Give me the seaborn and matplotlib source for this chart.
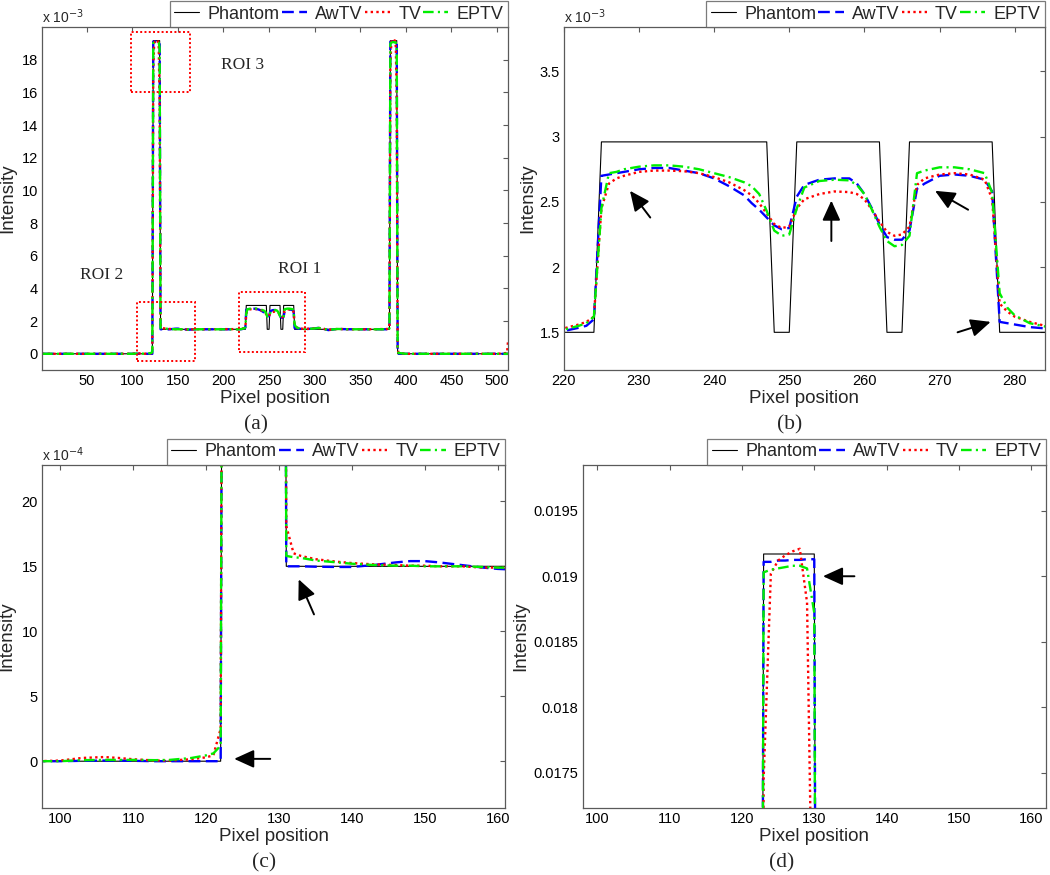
import numpy as np
import matplotlib
matplotlib.use("Agg")
import matplotlib.pyplot as plt
import seaborn as sns
from matplotlib.patches import Rectangle
from matplotlib.ticker import FuncFormatter

# ======================
# data (intensity in units of 1e-3)
# ======================
phantom_x = [1, 122, 123, 130, 131, 224, 225, 247, 248, 250, 251, 262, 263, 265,
             266, 277, 278, 382, 383, 390, 391, 512]
phantom_y = [0, 0, 19.17, 19.17, 1.5, 1.5, 2.96, 2.96, 1.5, 1.5, 2.96, 2.96, 1.5, 1.5,
             2.96, 2.96, 1.5, 1.5, 19.17, 19.17, 0, 0]

recon_x = [1, 97, 100, 103, 106, 108, 110, 113, 115, 118, 120, 121, 122,
           123, 124, 125, 126, 127, 128, 129, 130,
           131, 132, 133, 135, 138, 140, 143, 146, 148, 150, 152, 155, 158, 160, 162,
           170, 200, 218, 220, 222, 223, 224,
           225, 226, 227, 228, 230, 232, 234, 236, 238, 240, 242, 244, 245, 246, 247,
           248, 249, 250,
           251, 252, 254, 256, 258, 259, 260, 261, 262,
           263, 264, 265,
           266, 267, 268, 270, 272, 274, 276, 277,
           278, 279, 280, 282, 284,
           290, 300, 305, 315, 325, 340, 360, 380, 382,
           383, 384, 385, 386, 387, 388, 389, 390,
           391, 392, 400, 450, 500, 511, 512]
awtv_y = [0, 0, 0, 0.003, 0.005, 0.005, 0.003, 0, 0, 0, 0, 0, 0,
          19.11, 19.11, 19.12, 19.12, 19.125, 19.125, 19.13, 19.13,
          1.5, 1.5, 1.5, 1.497, 1.495, 1.495, 1.51, 1.53, 1.54, 1.54, 1.53, 1.51, 1.49, 1.48, 1.475,
          1.5, 1.5, 1.5, 1.51, 1.535, 1.55, 1.6,
          2.7, 2.71, 2.72, 2.73, 2.75, 2.76, 2.76, 2.74, 2.72, 2.68, 2.62, 2.55, 2.49, 2.44, 2.38,
          2.32, 2.29, 2.3,
          2.54, 2.63, 2.67, 2.68, 2.68, 2.64, 2.56, 2.45, 2.33,
          2.23, 2.21, 2.21,
          2.28, 2.6, 2.64, 2.7, 2.71, 2.7, 2.67, 2.58,
          1.58, 1.57, 1.56, 1.54, 1.53,
          1.51, 1.55, 1.6, 1.45, 1.52, 1.5, 1.5, 1.5, 1.52,
          19.1, 19.12, 19.12, 19.13, 19.13, 19.13, 19.13, 19.13,
          0, 0, 0, 0, 0, 0, 0]
tv_y = [0, 0, 0.005, 0.025, 0.032, 0.025, 0.015, 0.005, 0.005, 0.015, 0.03, 0.045, 0.25,
        17.45, 19.02, 19.12, 19.16, 19.19, 19.21, 18.8, 15.3,
        1.81, 1.6, 1.58, 1.555, 1.535, 1.525, 1.515, 1.51, 1.505, 1.505, 1.5, 1.5, 1.49, 1.49, 1.49,
        1.5, 1.51, 1.51, 1.53, 1.56, 1.58, 1.62,
        2.45, 2.64, 2.68, 2.7, 2.73, 2.74, 2.74, 2.735, 2.72, 2.69, 2.65, 2.59, 2.55, 2.49, 2.41,
        2.33, 2.3, 2.31,
        2.45, 2.52, 2.56, 2.58, 2.575, 2.56, 2.52, 2.44, 2.35,
        2.27, 2.24, 2.25,
        2.31, 2.63, 2.68, 2.71, 2.72, 2.71, 2.67, 2.52,
        1.72, 1.66, 1.62, 1.58, 1.55,
        1.52, 1.56, 1.58, 1.47, 1.52, 1.5, 1.5, 1.52, 1.6,
        17.5, 19.05, 19.25, 19.28, 19.25, 19.15, 18.8, 15.5,
        0.3, 0.05, 0, 0, 0, 0.05, 0.75]
eptv_y = [0, 0, 0, 0.008, 0.01, 0.01, 0.01, 0.008, 0.01, 0.025, 0.045, 0.06, 0.12,
          19.03, 19.05, 19.06, 19.07, 19.08, 19.08, 19.06, 18.72,
          1.58, 1.57, 1.565, 1.545, 1.53, 1.52, 1.51, 1.505, 1.505, 1.5, 1.5, 1.5, 1.495, 1.49, 1.49,
          1.5, 1.5, 1.5, 1.52, 1.55, 1.57, 1.62,
          2.45, 2.72, 2.73, 2.75, 2.77, 2.78, 2.78, 2.77, 2.75, 2.72, 2.69, 2.65, 2.62, 2.56, 2.43,
          2.28, 2.24, 2.25,
          2.45, 2.61, 2.66, 2.67, 2.665, 2.63, 2.56, 2.44, 2.31,
          2.2, 2.16, 2.17,
          2.24, 2.72, 2.74, 2.765, 2.765, 2.75, 2.72, 2.57,
          1.8, 1.69, 1.63, 1.57, 1.545,
          1.51, 1.55, 1.58, 1.46, 1.52, 1.5, 1.5, 1.5, 1.55,
          19.0, 19.05, 19.07, 19.08, 19.08, 19.07, 19.05, 18.7,
          0.15, 0.05, 0, 0, 0, 0, 0]

series_names = ["Phantom", "AwTV", "TV", "EPTV"]

# ticks of each panel
a_xticks = [50, 100, 150, 200, 250, 300, 350, 400, 450, 500]
a_yticks = [0, 2, 4, 6, 8, 10, 12, 14, 16, 18]
b_xticks = [220, 230, 240, 250, 260, 270, 280]
b_yticks = [1.5, 2, 2.5, 3, 3.5]
c_xticks = [100, 110, 120, 130, 140, 150, 160]
c_yticks = [0, 0.5, 1.0, 1.5, 2.0]
d_xticks = [100, 110, 120, 130, 140, 150, 160]
d_yticks = [17.5, 18, 18.5, 19, 19.5]

# ======================
# style
# ======================
sns.set_theme(style="white")
plt.rcParams["font.family"] = ["Liberation Sans", "DejaVu Sans"]
plt.rcParams["axes.unicode_minus"] = False
FRAME = "#5a5a5a"
SERIF = ["Liberation Serif", "DejaVu Serif"]

styles = [
    dict(color="black", lw=0.8, linestyle="-"),
    dict(color="#0000ff", lw=1.7, linestyle=(0, (5, 2.3))),
    dict(color="#ff0000", lw=1.7, linestyle=(0, (1.0, 1.4))),
    dict(color="#00ee00", lw=1.7, linestyle=(0, (4.5, 1.8, 0.9, 1.8))),
]

e3 = 1e-3
curves = [(phantom_x, np.array(phantom_y) * e3),
          (recon_x, np.array(awtv_y) * e3),
          (recon_x, np.array(tv_y) * e3),
          (recon_x, np.array(eptv_y) * e3)]

fig = plt.figure(figsize=(10.5, 8.75), dpi=100)

panels = [
    # rect, xlim, ylim, xticks, yticks, scale, exponent, ylabel x, sublabel pixel pos, sublabel
    ([0.040, 0.577, 0.4438, 0.392], (1, 512), (-1.0e-3, 20.0e-3), a_xticks, a_yticks, 1e-3, "-3", -0.056, (256, 425), "(a)"),
    ([0.537, 0.577, 0.458, 0.392], (220, 284), (1.21e-3, 3.84e-3), b_xticks, b_yticks, 1e-3, "-3", -0.058, (790, 425), "(b)"),
    ([0.040, 0.0766, 0.441, 0.392], (97.5, 161), (-0.36e-3, 2.28e-3), c_xticks, c_yticks, 1e-4, "-4", -0.058, (264, 863), "(c)"),
    ([0.555, 0.0766, 0.441, 0.392], (98, 162), (17.23e-3, 19.85e-3), d_xticks, d_yticks, 1.0, None, -0.1145, (782, 863), "(d)"),
]

axes = []
for rect, xlim, ylim, xt, yt, scale, expo, ylab_x, lab_pos, lab in panels:
    ax = fig.add_axes(rect)
    for (xs, ys), name, st in zip(curves, series_names, styles):
        sns.lineplot(x=xs, y=ys, ax=ax, label=name, estimator=None, sort=False, **st)
    ax.set_xlim(*xlim)
    ax.set_ylim(*ylim)
    ax.set_xticks(xt)
    ax.set_yticks(np.array(yt) * 1e-3)
    ax.yaxis.set_major_formatter(FuncFormatter(lambda v, p, s=scale: f"{round(v / s, 6):g}"))
    ax.tick_params(direction="in", top=True, right=True, length=3.5, width=0.8,
                   color=FRAME, labelsize=10.5, pad=3, labelcolor="black")
    for sp in ax.spines.values():
        sp.set_color(FRAME)
        sp.set_linewidth(0.9)
    ax.set_xlabel("Pixel position", fontsize=13.5, labelpad=1)
    ax.set_ylabel("Intensity", fontsize=13.5)
    ax.yaxis.set_label_coords(ylab_x, 0.5)
    if expo is not None:
        ax.text(0.0, 1.004, "x 10$^{" + expo + "}$", transform=ax.transAxes,
                ha="left", va="bottom", fontsize=10)
    leg = ax.legend(loc="lower right", bbox_to_anchor=(1.0, 1.0), ncol=4, fontsize=13,
                    frameon=True, fancybox=False, borderaxespad=0, borderpad=0.25,
                    handlelength=1.4, handletextpad=0.45, columnspacing=0.12)
    leg.get_frame().set_edgecolor(FRAME)
    leg.get_frame().set_linewidth(0.9)
    fig.text(lab_pos[0] / 1050, 1 - lab_pos[1] / 875, lab, ha="center", va="center",
             fontsize=15.5, family=SERIF)
    axes.append(ax)

ax_a, ax_b, ax_c, ax_d = axes

# ROI boxes and labels on (a)
roi_boxes = [(217, 0.08e-3, 72, 3.72e-3), (105, -0.43e-3, 64, 3.63e-3), (99, 16.04e-3, 64, 3.66e-3)]
for x0, y0, w, h in roi_boxes:
    ax_a.add_patch(Rectangle((x0, y0), w, h, fill=False, edgecolor="#ff0000",
                             linestyle=(0, (1.0, 1.2)), lw=1.4, zorder=5))
roi_text = [("ROI 1", 284, 5.2e-3), ("ROI 2", 66, 4.8e-3), ("ROI 3", 221, 17.7e-3)]
for t, tx, ty in roi_text:
    ax_a.text(tx, ty, t, ha="center", va="center", fontsize=12.5, family=SERIF)

arrow_kw = dict(arrowstyle="-|>,head_length=0.55,head_width=0.25", color="black", lw=1.4,
                mutation_scale=22, shrinkA=0, shrinkB=0)

# arrows (b)
b_arrows = [((231.5, 2.38e-3), (228.8, 2.585e-3)),
            ((255.6, 2.20e-3), (255.6, 2.51e-3)),
            ((273.8, 2.44e-3), (269.4, 2.585e-3)),
            ((272.4, 1.50e-3), (276.8, 1.58e-3))]
for tail, head in b_arrows:
    ax_b.annotate("", xy=head, xytext=tail, arrowprops=arrow_kw)

# arrows (c)
c_arrows = [((134.8, 1.13e-3), (132.7, 1.40e-3)),
            ((128.8, 0.018e-3), (123.85, 0.018e-3))]
for tail, head in c_arrows:
    ax_c.annotate("", xy=head, xytext=tail, arrowprops=arrow_kw)

# arrow (d)
ax_d.annotate("", xy=(131.2, 19.0e-3), xytext=(135.55, 19.0e-3), arrowprops=arrow_kw)

fig.savefig("out.png", dpi=100)
